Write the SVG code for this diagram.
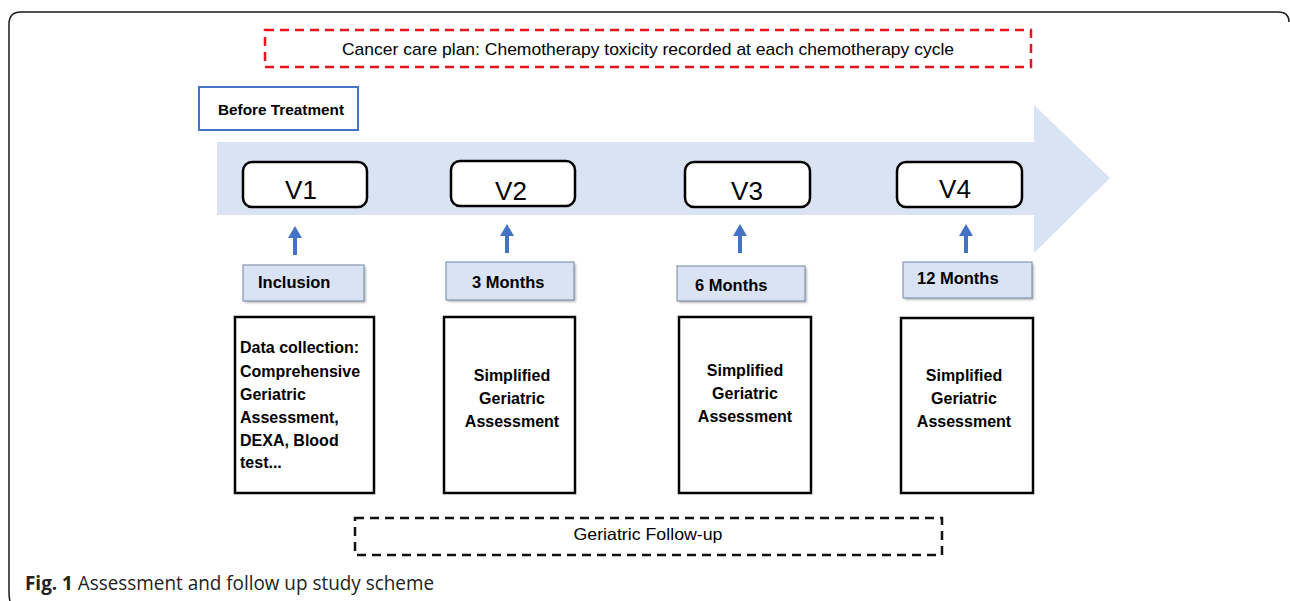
<svg xmlns="http://www.w3.org/2000/svg" width="1290" height="601" viewBox="0 0 1290 601">
<defs>
<style>
.t{font-family:"Liberation Sans",Arial,sans-serif;fill:#000}
.b{font-weight:bold}
.vbox{fill:#fff;stroke:#000;stroke-width:2.5}
.big{fill:#fff;stroke:#000;stroke-width:2.5}
.lbl{fill:#dae3f3;stroke:#8497b0;stroke-width:1.2}
.shd{fill:#a9a9a9;opacity:0.8}
.up{fill:#4472c4}
</style>
<filter id="blur" x="-10%" y="-10%" width="120%" height="130%"><feGaussianBlur stdDeviation="1"/></filter>
</defs>
<rect width="1290" height="601" fill="#fff"/>
<path d="M 10 601 Q 9 598 9 590 V 24 Q 9 12 21 12 H 1278 Q 1289 12 1289 22" fill="none" stroke="#1a1a1a" stroke-width="1.5"/>

<g id="cancer-plan">
<rect x="265" y="30" width="766" height="37" fill="none" stroke="#e8141c" stroke-width="2.5" stroke-dasharray="9,6"/>
<text class="t" x="648" y="55" font-size="17" text-anchor="middle" fill="#222" textLength="612" lengthAdjust="spacingAndGlyphs">Cancer care plan: Chemotherapy toxicity recorded at each chemotherapy cycle</text>
</g>

<g id="before-treatment">
<rect x="199" y="87" width="159" height="43" fill="#fff" stroke="#4472c4" stroke-width="2"/>
<text class="t b" x="281" y="115" font-size="14.5" text-anchor="middle" textLength="126" lengthAdjust="spacingAndGlyphs">Before Treatment</text>
</g>

<g id="timeline">
<path d="M 217 142 H 1034 V 105 L 1110 178 L 1034 253 V 215 H 217 Z" fill="#dae3f3"/>
</g>

<g id="v1"><rect class="vbox" x="243" y="162" width="124" height="45" rx="9"/><text class="t" x="301" y="199" font-size="26" text-anchor="middle">V1</text></g>
<g id="v2"><rect class="vbox" x="451" y="161" width="124" height="45" rx="9"/><text class="t" x="511" y="200" font-size="26" text-anchor="middle">V2</text></g>
<g id="v3"><rect class="vbox" x="685" y="162" width="125" height="45" rx="9"/><text class="t" x="747" y="200" font-size="26" text-anchor="middle">V3</text></g>
<g id="v4"><rect class="vbox" x="897" y="162" width="125" height="45" rx="9"/><text class="t" x="955" y="198" font-size="26" text-anchor="middle">V4</text></g>

<g id="connectors">
<path class="up" d="M 293 255 V 238 H 288 L 295 226 L 302 238 H 297 V 255 Z"/>
<path class="up" d="M 505 253 V 236 H 500 L 507 224 L 514 236 H 509 V 253 Z"/>
<path class="up" d="M 738 253 V 236 H 733 L 740 224 L 747 236 H 742 V 253 Z"/>
<path class="up" d="M 964 253 V 236 H 959 L 966 224 L 973 236 H 968 V 253 Z"/>
</g>

<g id="inclusion">
<rect class="shd" x="245" y="267" width="121" height="36" filter="url(#blur)"/>
<rect class="lbl" x="243" y="265" width="121" height="36"/>
<text class="t b" x="258" y="288" font-size="16.5">Inclusion</text>
</g>
<g id="m3">
<rect class="shd" x="448" y="264" width="128" height="38" filter="url(#blur)"/>
<rect class="lbl" x="446" y="262" width="128" height="38"/>
<text class="t b" x="472" y="288" font-size="16.5">3 Months</text>
</g>
<g id="m6">
<rect class="shd" x="679" y="268" width="128" height="35" filter="url(#blur)"/>
<rect class="lbl" x="677" y="266" width="128" height="35"/>
<text class="t b" x="695" y="291" font-size="16.5">6 Months</text>
</g>
<g id="m12">
<rect class="shd" x="905" y="264" width="129" height="36" filter="url(#blur)"/>
<rect class="lbl" x="903" y="262" width="129" height="36"/>
<text class="t b" x="917" y="284" font-size="16.5">12 Months</text>
</g>

<g id="box1">
<rect class="big" x="235" y="317" width="139" height="176"/>
<text class="t b" font-size="16"><tspan x="240" y="353">Data collection:</tspan><tspan x="240" y="377">Comprehensive</tspan><tspan x="240" y="400">Geriatric</tspan><tspan x="240" y="423">Assessment,</tspan><tspan x="240" y="446">DEXA, Blood</tspan><tspan x="240" y="468">test...</tspan></text>
</g>
<g id="box2">
<rect class="big" x="444" y="317" width="131" height="176"/>
<text class="t b" font-size="16" text-anchor="middle"><tspan x="512" y="381">Simplified</tspan><tspan x="512" y="404">Geriatric</tspan><tspan x="512" y="427">Assessment</tspan></text>
</g>
<g id="box3">
<rect class="big" x="679" y="317" width="132" height="176"/>
<text class="t b" font-size="16" text-anchor="middle"><tspan x="745" y="376">Simplified</tspan><tspan x="745" y="399">Geriatric</tspan><tspan x="745" y="422">Assessment</tspan></text>
</g>
<g id="box4">
<rect class="big" x="901" y="318" width="132" height="175"/>
<text class="t b" font-size="16" text-anchor="middle"><tspan x="964" y="381">Simplified</tspan><tspan x="964" y="404">Geriatric</tspan><tspan x="964" y="427">Assessment</tspan></text>
</g>

<g id="follow-up">
<rect x="355" y="518" width="587" height="37" fill="none" stroke="#111" stroke-width="2.5" stroke-dasharray="9,6"/>
<text class="t" x="648" y="540" font-size="16.5" text-anchor="middle" fill="#222" textLength="149" lengthAdjust="spacingAndGlyphs">Geriatric Follow-up</text>
</g>

<text x="25" y="590" font-family="'Open Sans','Liberation Sans',sans-serif" font-size="19.5" fill="#222" textLength="409" lengthAdjust="spacingAndGlyphs"><tspan font-weight="bold">Fig. 1</tspan> Assessment and follow up study scheme</text>
</svg>
